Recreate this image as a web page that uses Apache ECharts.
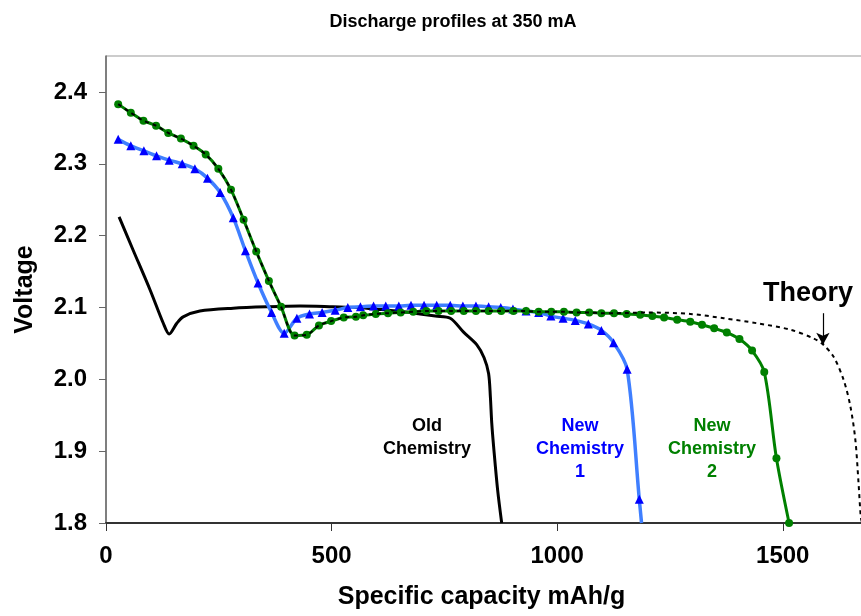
<!DOCTYPE html>
<html>
<head>
<meta charset="utf-8">
<script src="https://cdn.jsdelivr.net/npm/echarts@6/dist/echarts.min.js"></script>
<style>
  html, body { margin: 0; padding: 0; background: #fff; }
  #chart { width: 861px; height: 616px; }
</style>
</head>
<body>
<div id="chart"></div>
<script>
// tick labels
const xTicks = [0, 500, 1000, 1500];
const yTicks = [1.8, 1.9, 2.0, 2.1, 2.2, 2.3, 2.4];

// Old Chemistry (black, no markers)
const oldX = [29, 60, 98, 127, 140, 157, 171, 208, 282, 360, 430, 503, 560, 610, 660, 696, 730, 763, 792, 822, 838, 848, 852, 855, 860, 868, 877];
const oldY = [2.226, 2.180, 2.124, 2.078, 2.063, 2.078, 2.087, 2.095, 2.099, 2.101, 2.102, 2.101, 2.100, 2.097, 2.094, 2.091, 2.088, 2.085, 2.066, 2.048, 2.030, 2.008, 1.975, 1.939, 1.900, 1.846, 1.800];

// New Chemistry 1 (blue triangles)
const blueX = [27, 55, 84, 112, 140, 169, 197, 225, 253, 282, 309, 337, 367, 395, 423, 451, 479, 508, 536, 564, 593, 620, 649, 676, 705, 733, 763, 791, 820, 848, 875, 902, 931, 959, 986, 1013, 1040, 1069, 1098, 1125, 1155, 1182, 1187];
const blueY = [2.334, 2.325, 2.318, 2.311, 2.305, 2.300, 2.293, 2.280, 2.260, 2.225, 2.179, 2.134, 2.093, 2.064, 2.085, 2.091, 2.093, 2.096, 2.100, 2.101, 2.102, 2.102, 2.102, 2.103, 2.103, 2.103, 2.103, 2.102, 2.102, 2.101, 2.100, 2.098, 2.095, 2.093, 2.088, 2.085, 2.082, 2.077, 2.068, 2.051, 2.014, 1.833, 1.800];

// New Chemistry 2 (green circles)
const greenX = [27, 55, 83, 111, 138, 166, 194, 221, 249, 277, 305, 333, 361, 388, 418, 445, 472, 499, 527, 554, 570, 598, 625, 653, 681, 710, 737, 765, 793, 820, 848, 876, 903, 931, 959, 987, 1015, 1043, 1071, 1098, 1126, 1154, 1184, 1211, 1237, 1266, 1295, 1321, 1348, 1376, 1404, 1432, 1459, 1486, 1514];
const greenY = [2.383, 2.371, 2.360, 2.353, 2.343, 2.335, 2.325, 2.313, 2.293, 2.264, 2.222, 2.178, 2.137, 2.101, 2.061, 2.062, 2.075, 2.081, 2.086, 2.087, 2.089, 2.091, 2.092, 2.093, 2.094, 2.095, 2.095, 2.095, 2.095, 2.095, 2.095, 2.095, 2.095, 2.095, 2.094, 2.094, 2.094, 2.093, 2.093, 2.092, 2.092, 2.091, 2.090, 2.088, 2.086, 2.083, 2.080, 2.076, 2.071, 2.065, 2.056, 2.040, 2.010, 1.890, 1.800];

// Theory follows New Chemistry 2 up to this capacity, then its own tail
const theorySplit = 1126;
const theoryTailX = [1200, 1295, 1369, 1443, 1517, 1568, 1590, 1613, 1635, 1650, 1661, 1668, 1673, 1676];
const theoryTailY = [2.093, 2.091, 2.085, 2.078, 2.069, 2.057, 2.048, 2.031, 1.999, 1.962, 1.915, 1.855, 1.808, 1.800];

const font = "'Liberation Sans', Arial, sans-serif";
const zip = (xs, ys) => xs.map((x, i) => [x, ys[i]]);

const theoryData = zip(greenX, greenY).filter(p => p[0] <= theorySplit)
  .concat(zip(theoryTailX, theoryTailY));

// last blue point sits on the axis without a marker
const blueData = zip(blueX, blueY).map((p, i, arr) =>
  i === arr.length - 1 ? { value: p, symbol: 'none' } : p);

const chart = echarts.init(document.getElementById('chart'));
chart.setOption({
  animation: false,
  backgroundColor: '#fff',
  title: {
    text: 'Discharge profiles at 350 mA',
    left: 448, top: 8, textAlign: 'center',
    textStyle: { fontFamily: font, fontWeight: 'bold', fontSize: 18, color: '#000' }
  },
  grid: {
    left: 106, top: 56, right: -12, bottom: 93,
    show: true, borderColor: '#999', borderWidth: 1,
    outerBoundsMode: 'none'
  },
  xAxis: {
    type: 'value', min: 0, max: 1700, interval: 500,
    name: 'Specific capacity mAh/g', nameLocation: 'middle', nameGap: 62,
    nameTextStyle: { fontFamily: font, fontWeight: 'bold', fontSize: 25, color: '#000', padding: [0, 16, 0, 0] },
    axisLine: { show: true, lineStyle: { color: '#333', width: 2 } },
    axisTick: { show: true, length: 8, customValues: xTicks, lineStyle: { color: '#333' } },
    axisLabel: {
      customValues: xTicks, margin: 21,
      formatter: v => String(v),
      fontFamily: font, fontWeight: 'bold', fontSize: 24, color: '#000'
    },
    splitLine: { show: false }
  },
  yAxis: {
    type: 'value', min: 1.8, max: 2.45, interval: 0.1,
    name: 'Voltage', nameLocation: 'middle', nameGap: 68,
    nameTextStyle: { fontFamily: font, fontWeight: 'bold', fontSize: 25, color: '#000' },
    axisLine: { show: true, lineStyle: { color: '#666', width: 1.5 } },
    axisTick: { show: true, length: 7, inside: false, customValues: yTicks, lineStyle: { color: '#666' } },
    axisLabel: {
      customValues: yTicks, margin: 19,
      formatter: v => v.toFixed(1),
      fontFamily: font, fontWeight: 'bold', fontSize: 24, color: '#000'
    },
    splitLine: { show: false }
  },
  series: [
    {
      name: 'Old Chemistry', type: 'line', data: zip(oldX, oldY),
      smooth: 0.3, symbol: 'none',
      lineStyle: { color: '#000', width: 3 }, z: 2
    },
    {
      name: 'New Chemistry 1', type: 'line', data: blueData,
      smooth: 0.3, symbol: 'triangle', symbolSize: 9,
      lineStyle: { color: '#3f7fff', width: 3.5 },
      itemStyle: { color: '#0000ff' }, z: 3
    },
    {
      name: 'New Chemistry 2', type: 'line', data: zip(greenX, greenY),
      smooth: 0.3, symbol: 'circle', symbolSize: 8,
      lineStyle: { color: '#008000', width: 3 },
      itemStyle: { color: '#008000' }, z: 4
    },
    {
      name: 'Theory', type: 'line', data: theoryData,
      smooth: 0.3, symbol: 'none',
      lineStyle: { color: '#000', width: 2, type: [4, 4] }, z: 5,
      markLine: {
        silent: true, symbol: ['none', 'arrow'], symbolSize: [10, 12],
        label: { show: false },
        lineStyle: { color: '#000', width: 1.2, type: 'solid' },
        data: [[{ coord: [1589, 2.092] }, { coord: [1589, 2.048] }]]
      }
    }
  ],
  graphic: [
    { type: 'text', x: 427, y: 415, style: { text: 'Old\nChemistry', textAlign: 'center', textVerticalAlign: 'top', font: 'bold 18px ' + font, lineHeight: 23, fill: '#000' } },
    { type: 'text', x: 580, y: 415, style: { text: 'New\nChemistry\n1', textAlign: 'center', textVerticalAlign: 'top', font: 'bold 18px ' + font, lineHeight: 23, fill: '#0000ff' } },
    { type: 'text', x: 712, y: 415, style: { text: 'New\nChemistry\n2', textAlign: 'center', textVerticalAlign: 'top', font: 'bold 18px ' + font, lineHeight: 23, fill: '#008000' } },
    { type: 'text', x: 808, y: 294, style: { text: 'Theory', textAlign: 'center', textVerticalAlign: 'middle', font: 'bold 27px ' + font, fill: '#000' } }
  ]
});
</script>
</body>
</html>
